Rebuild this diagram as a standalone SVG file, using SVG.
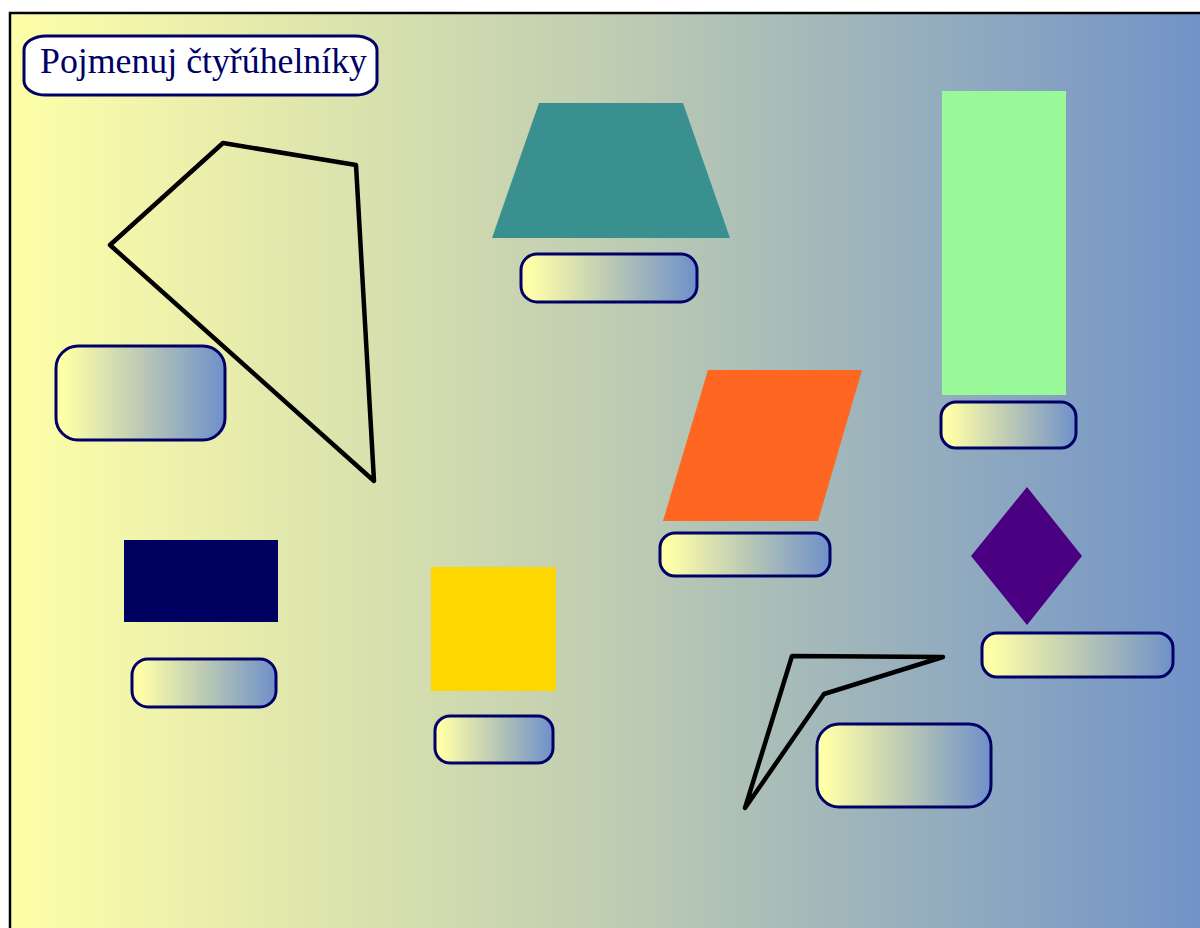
<svg xmlns="http://www.w3.org/2000/svg" width="1200" height="928" viewBox="0 0 1200 928">
<defs>
<linearGradient id="bg" x1="0" y1="0" x2="1" y2="0">
<stop offset="0" stop-color="#ffffa8"/>
<stop offset="0.5" stop-color="#bfcdb2"/>
<stop offset="1" stop-color="#7092c8"/>
</linearGradient>
<linearGradient id="lg" x1="0" y1="0" x2="1" y2="0">
<stop offset="0.05" stop-color="#ffffa8"/>
<stop offset="0.5" stop-color="#bccab4"/>
<stop offset="1" stop-color="#6e90ca"/>
</linearGradient>
<style>
.lbl{fill:url(#lg);stroke:#000066;stroke-width:3}
.out{fill:none;stroke:#000;stroke-width:4.5;stroke-linejoin:round}
</style>
</defs>
<rect x="10" y="13" width="1200" height="930" fill="url(#bg)" stroke="#000" stroke-width="2.5"/>
<g id="title">
<rect x="24" y="36" width="353" height="59" rx="22" ry="14" fill="#fff" stroke="#000066" stroke-width="3"/>
<text x="40" y="73" font-family="Liberation Serif, serif" font-size="35" fill="#000066" textLength="327" lengthAdjust="spacingAndGlyphs">Pojmenuj čtyřúhelníky</text>
</g>
<g id="quad1"><polygon class="out" points="223,143 356,165 374,481 110,245"/></g>
<g id="trapezoid"><polygon fill="#3a8f8f" points="539,103 683,103 730,238 492,238"/></g>
<g id="rectangle"><rect x="942" y="91" width="124" height="304" fill="#99f999"/></g>
<g id="parallelogram"><polygon fill="#ff6622" points="708,370 862,370 818,521 663,521"/></g>
<g id="navyrect"><rect x="124" y="540" width="154" height="82" fill="#000060"/></g>
<g id="square"><rect x="431" y="567" width="125" height="124" fill="#ffd700"/></g>
<g id="rhombus"><polygon fill="#4b0082" points="1027,487 1082,556 1027,625 971,556"/></g>
<g id="quad2"><polygon class="out" points="792,656 943,657 824,694 745,808"/></g>
<g id="labels">
<rect id="l1" class="lbl" x="56" y="346" width="169" height="94" rx="22"/>
<rect id="l2" class="lbl" x="521" y="254" width="176" height="48" rx="16"/>
<rect id="l3" class="lbl" x="941" y="402" width="135" height="46" rx="15"/>
<rect id="l4" class="lbl" x="660" y="533" width="170" height="43" rx="15"/>
<rect id="l5" class="lbl" x="132" y="659" width="144" height="48" rx="16"/>
<rect id="l6" class="lbl" x="435" y="716" width="118" height="47" rx="15"/>
<rect id="l7" class="lbl" x="982" y="633" width="191" height="44" rx="15"/>
<rect id="l8" class="lbl" x="817" y="724" width="174" height="83" rx="22"/>
</g>
</svg>
